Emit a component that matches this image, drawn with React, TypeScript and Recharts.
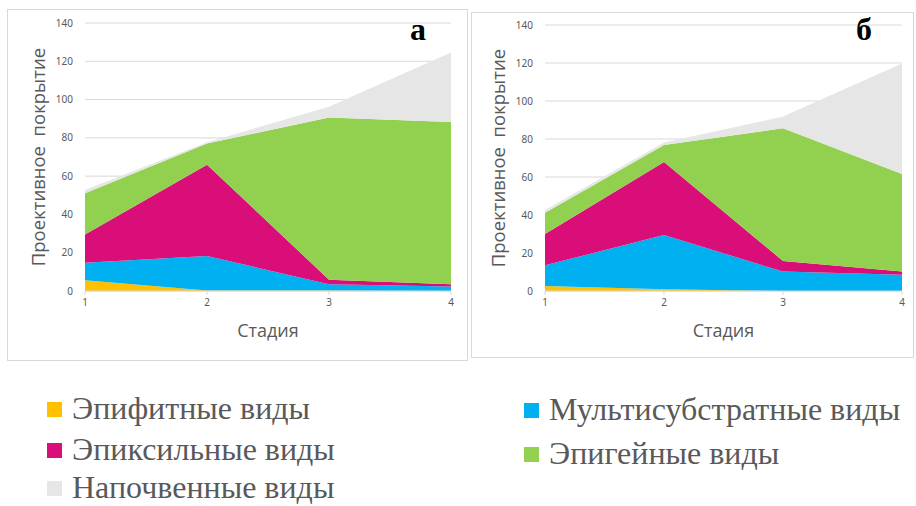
import React from "react";
import { AreaChart, Area, XAxis, YAxis, CartesianGrid, Label } from "recharts";

const stages = ["1", "2", "3", "4"];
const yTicks = [0, 20, 40, 60, 80, 100, 120, 140];

const seriesNames = [
  "Эпифитные виды",
  "Мультисубстратные виды",
  "Эпиксильные виды",
  "Эпигейные виды",
  "Напочвенные виды",
];
const seriesColors = ["#FFC000", "#00B0F0", "#DA0E79", "#92D050", "#E6E6E6"];

// панель «а»
const epiphyticA = [5.6, 0.3, 0.3, 0];
const multiA = [9.1, 18.0, 3.2, 2.4];
const epixylicA = [14.8, 47.7, 2.4, 1.1];
const epigeicA = [21.5, 11.1, 84.7, 84.8];
const soilA = [1.7, 0.6, 5.7, 36.3];

// панель «б»
const epiphyticB = [2.6, 0.9, 0, 0];
const multiB = [10.9, 28.6, 10.2, 8.6];
const epixylicB = [16.5, 38.4, 5.6, 1.6];
const epigeicB = [11.2, 8.9, 69.8, 51.4];
const soilB = [1.4, 1.3, 6.2, 58.2];

const keys = ["s0", "s1", "s2", "s3", "s4"];

function buildRows(series: number[][]) {
  return stages.map((stage, i) => {
    const row: Record<string, string | number> = { stage };
    series.forEach((values, k) => {
      row[keys[k]] = values[i];
    });
    return row;
  });
}

const dataA = buildRows([epiphyticA, multiA, epixylicA, epigeicA, soilA]);
const dataB = buildRows([epiphyticB, multiB, epixylicB, epigeicB, soilB]);

const tickFont = { fontSize: 10, fill: "#595959", fontFamily: "'Noto Sans', sans-serif" };
const titleFont = "'Open Sans', 'Noto Sans', sans-serif";

type PanelProps = {
  data: Record<string, string | number>[];
  letter: string;
  left: number;
  top: number;
  width: number;
  height: number;
  margin: { top: number; right: number; bottom: number; left: number };
  yAxisWidth: number;
  yTitleX: number;
  letterX: number;
  letterY: number;
};

function Panel(p: PanelProps) {
  return (
    <div
      style={{
        position: "absolute",
        left: p.left,
        top: p.top,
        width: p.width,
        height: p.height,
        border: "1px solid #d9d9d9",
        boxSizing: "border-box",
        background: "#fff",
      }}
    >
      <AreaChart width={p.width - 2} height={p.height - 2} data={p.data} margin={p.margin}>
        <CartesianGrid vertical={false} stroke="#d9d9d9" />
        <XAxis dataKey="stage" tick={tickFont} tickSize={4} tickMargin={4} stroke="#d9d9d9" height={60}>
          <Label
            content={({ viewBox }: any) => (
              <text
                x={viewBox.x + viewBox.width / 2}
                y={viewBox.y + 41}
                textAnchor="middle"
                dominantBaseline="middle"
                fontSize={18}
                fill="#595959"
                fontFamily={titleFont}
              >
                Стадия
              </text>
            )}
          />
        </XAxis>
        <YAxis
          domain={[0, 140]}
          ticks={yTicks}
          tick={tickFont}
          tickLine={false}
          axisLine={false}
          tickMargin={6}
          width={p.yAxisWidth}
        >
          <Label
            content={({ viewBox }: any) => {
              const cx = viewBox.x + p.yTitleX;
              const cy = viewBox.y + viewBox.height / 2;
              return (
                <text
                  x={cx}
                  y={cy}
                  transform={`rotate(-90 ${cx} ${cy})`}
                  textAnchor="middle"
                  dominantBaseline="middle"
                  fontSize={18.5}
                  fill="#595959"
                  fontFamily={titleFont}
                  style={{ whiteSpace: "pre" }}
                >
                  {"Проективное  покрытие"}
                </text>
              );
            }}
          />
        </YAxis>
        {keys.map((k, i) => (
          <Area
            key={k}
            type="linear"
            dataKey={k}
            name={seriesNames[i]}
            stackId="cover"
            stroke="none"
            fill={seriesColors[i]}
            fillOpacity={1}
            isAnimationActive={false}
          />
        ))}
      </AreaChart>
      <div
        style={{
          position: "absolute",
          left: p.letterX - 20,
          top: p.letterY - 30,
          width: 40,
          textAlign: "center",
          fontFamily: "'Liberation Serif', serif",
          fontWeight: "bold",
          fontSize: 32,
          lineHeight: "32px",
          color: "#000",
        }}
      >
        {p.letter}
      </div>
    </div>
  );
}

const legendRows = [
  { idx: 0, x: 47, y: 402 },
  { idx: 2, x: 47, y: 443 },
  { idx: 4, x: 47, y: 481 },
  { idx: 1, x: 524, y: 403 },
  { idx: 3, x: 524, y: 447 },
];

export default function App() {
  return (
    <div
      style={{
        position: "absolute",
        left: 0,
        top: 0,
        width: 916,
        height: 506,
        background: "#fff",
        overflow: "hidden",
      }}
    >
      <Panel
        data={dataA}
        letter="а"
        left={7}
        top={9}
        width={461}
        height={352}
        margin={{ top: 13, right: 16, bottom: 9, left: 0 }}
        yAxisWidth={77}
        yTitleX={32}
        letterX={410}
        letterY={33}
      />
      <Panel
        data={dataB}
        letter="б"
        left={471}
        top={12}
        width={443}
        height={346}
        margin={{ top: 12, right: 11, bottom: 6, left: 0 }}
        yAxisWidth={73}
        yTitleX={28}
        letterX={392}
        letterY={30}
      />
      {legendRows.map((r) => (
        <div key={r.idx} style={{ position: "absolute", left: r.x, top: r.y, height: 16 }}>
          <div
            style={{
              position: "absolute",
              left: 0,
              top: 0,
              width: 15,
              height: 15,
              background: seriesColors[r.idx],
            }}
          />
          <div
            style={{
              position: "absolute",
              left: 25,
              top: -8,
              whiteSpace: "nowrap",
              fontFamily: "'Liberation Serif', serif",
              fontSize: 32,
              lineHeight: "28px",
              color: "#595959",
            }}
          >
            {seriesNames[r.idx]}
          </div>
        </div>
      ))}
    </div>
  );
}
